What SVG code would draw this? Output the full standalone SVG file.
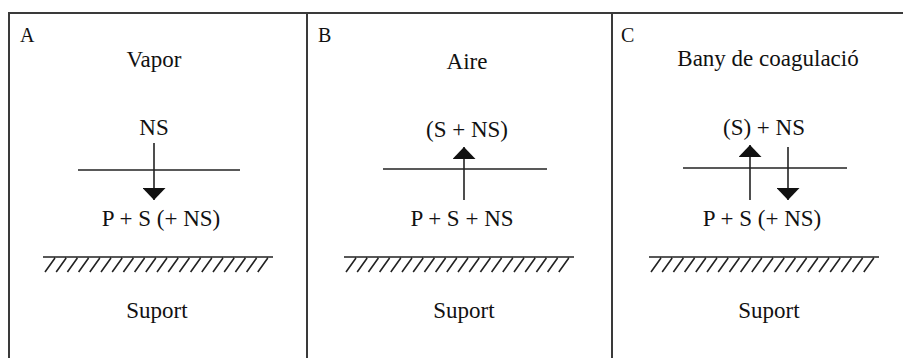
<svg xmlns="http://www.w3.org/2000/svg" xmlns:xlink="http://www.w3.org/1999/xlink" width="903" height="358" viewBox="0 0 903 358">
<style>
text{font-family:'Liberation Serif','DejaVu Serif','Times New Roman',serif;fill:#111}
.t{font-size:23px;text-anchor:middle}
.lab{font-size:20px}
.frame{fill:none;stroke:#3a3a3a;stroke-width:2}
.mem{stroke:#222;stroke-width:1.6}
.arr{stroke:#222;stroke-width:1.6;fill:none;marker-end:url(#ah)}
.gnd{fill:none;stroke:#222;stroke-width:1.6}
</style>
<defs>
<marker id="ah" viewBox="0 0 12 23" refX="12" refY="11.5" markerWidth="12" markerHeight="23" markerUnits="userSpaceOnUse" orient="auto">
<path d="M0,0 L12,11.5 L0,23 z" fill="#111"/>
</marker>
<path id="ground" class="gnd" d="M0,0 H230 M2,15 l10,-14 m1.2,14 l10,-14 m1.2,14 l10,-14 m1.2,14 l10,-14 m1.2,14 l10,-14 m1.2,14 l10,-14 m1.2,14 l10,-14 m1.2,14 l10,-14 m1.2,14 l10,-14 m1.2,14 l10,-14 m1.2,14 l10,-14 m1.2,14 l10,-14 m1.2,14 l10,-14 m1.2,14 l10,-14 m1.2,14 l10,-14 m1.2,14 l10,-14 m1.2,14 l10,-14 m1.2,14 l10,-14 m1.2,14 l10,-14 m1.2,14 l10,-14"/>
</defs>
<g id="frame">
<path class="frame" d="M9,358 V13 H903 M307,13 V358 M612,13 V358"/>
</g>
<g id="panelA">
<text class="lab" x="20" y="42">A</text>
<text class="t" x="154" y="67">Vapor</text>
<text class="t" x="154" y="135">NS</text>
<line class="mem" x1="78" y1="170" x2="240" y2="170"/>
<text class="t" x="161" y="226">P + S (+ NS)</text>
<use xlink:href="#ground" x="43" y="257"/>
<text class="t" x="157" y="318">Suport</text>
</g>
<g id="panelB">
<text class="lab" x="318" y="42">B</text>
<text class="t" x="467" y="69">Aire</text>
<text class="t" x="467" y="137">(S + NS)</text>
<line class="mem" x1="383" y1="169" x2="547" y2="169"/>
<text class="t" x="462" y="226">P + S + NS</text>
<use xlink:href="#ground" x="344" y="257"/>
<text class="t" x="464" y="318">Suport</text>
</g>
<g id="panelC">
<text class="lab" x="621" y="42">C</text>
<text class="t" x="768" y="66">Bany de coagulació</text>
<text class="t" x="764" y="135">(S) + NS</text>
<line class="mem" x1="683" y1="168" x2="847" y2="168"/>
<text class="t" x="762" y="226">P + S (+ NS)</text>
<use xlink:href="#ground" x="649" y="257"/>
<text class="t" x="769" y="318">Suport</text>
</g>
<g id="connectors">
<path class="arr" d="M154,143 V200"/>
<path class="arr" d="M464,200 V147"/>
<path class="arr" d="M750,200 V145"/>
<path class="arr" d="M788,147 V200"/>
</g>
</svg>
